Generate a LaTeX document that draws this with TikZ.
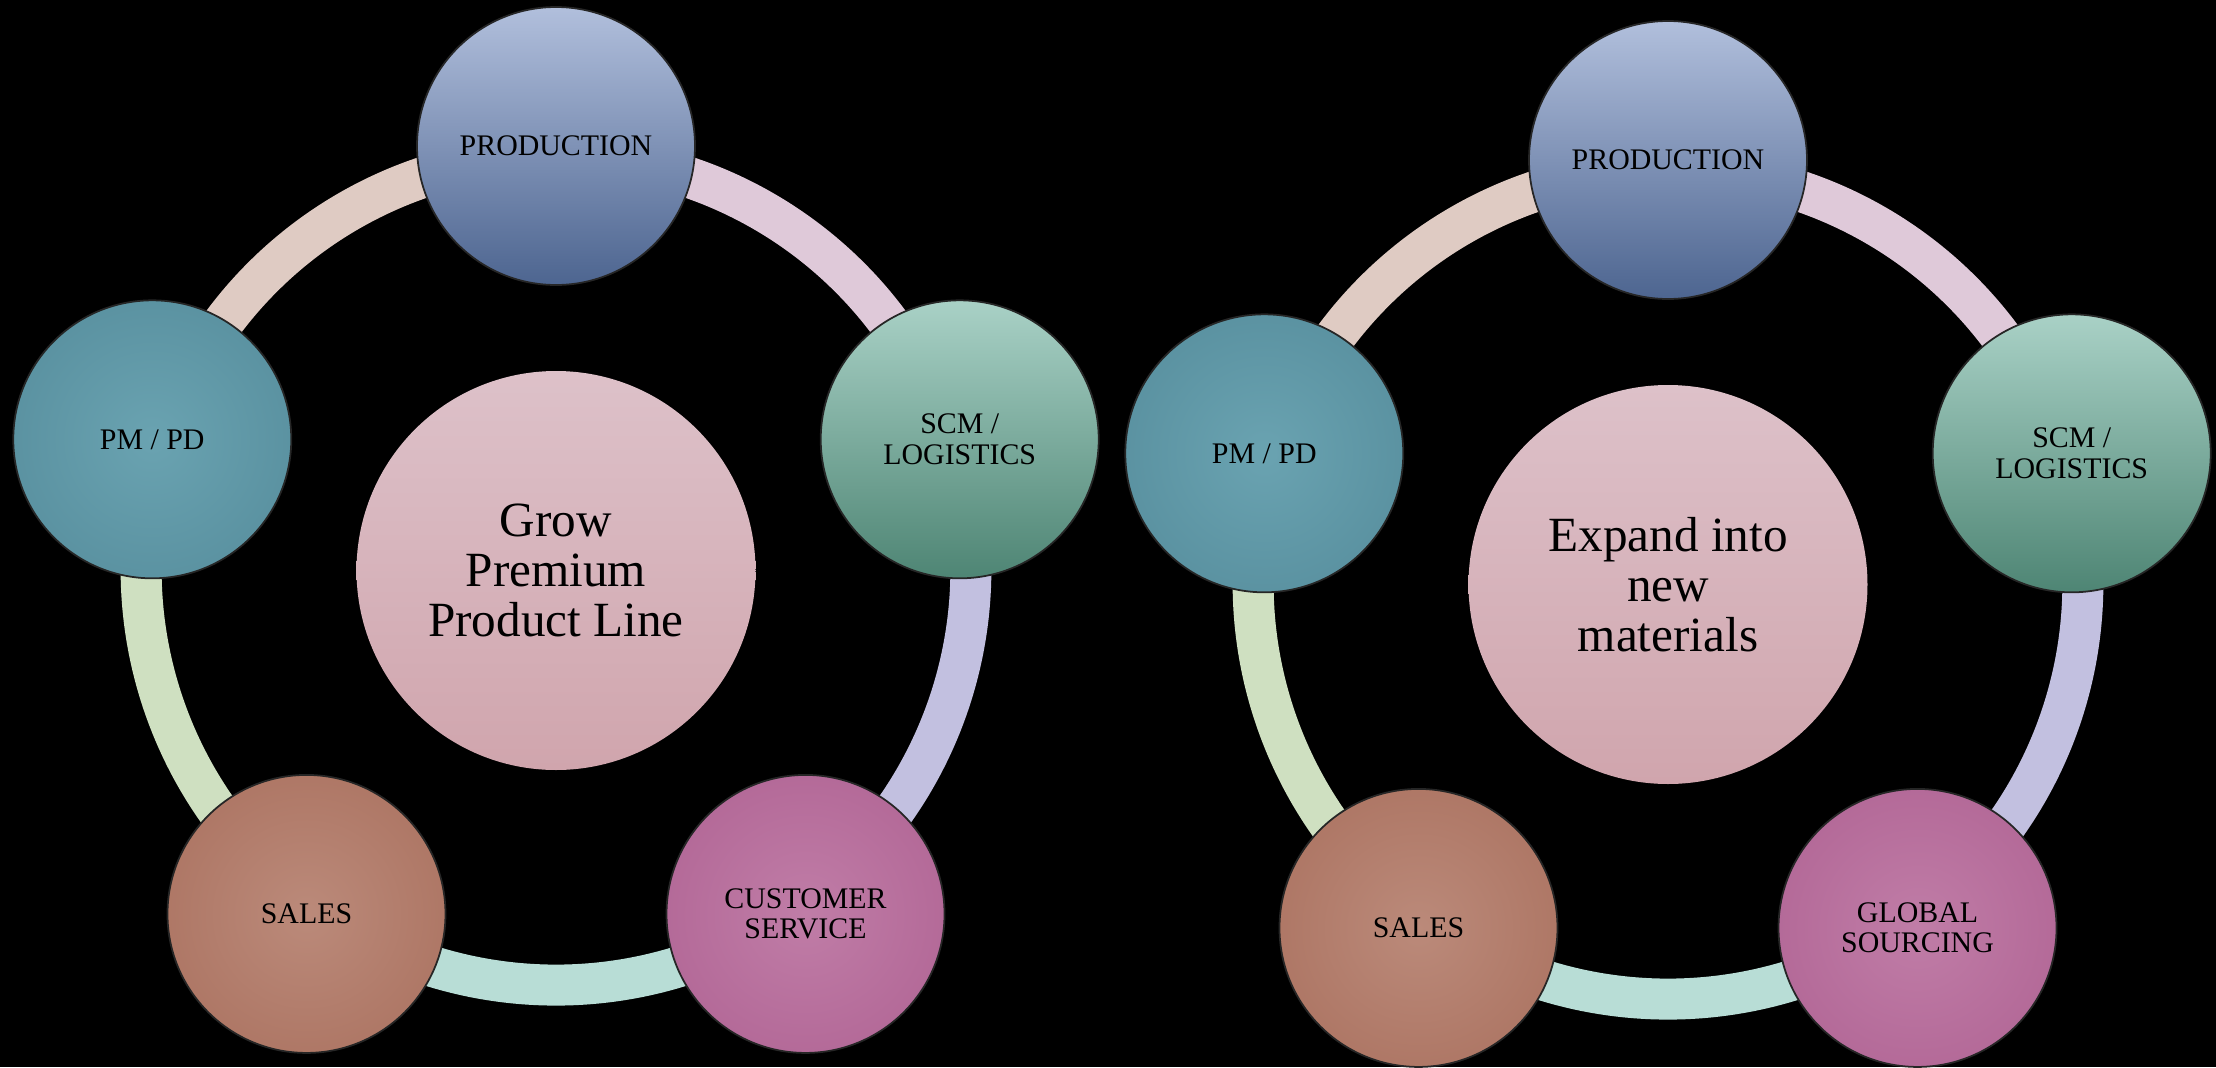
\documentclass[tikz,border=0pt]{standalone}
\usepackage{fontspec}
\setmainfont{Liberation Serif}
\usetikzlibrary{calc}

% fills of the circles
\definecolor{prodtop}{HTML}{B1BFDC}
\definecolor{prodbot}{HTML}{4D6590}
\definecolor{scmtop}{HTML}{A9D1C6}
\definecolor{scmbot}{HTML}{4E8574}
\definecolor{goaltop}{HTML}{DDC1C9}
\definecolor{goalbot}{HTML}{D0A5AD}
\definecolor{pmin}{HTML}{6AA3B1}
\definecolor{pmout}{HTML}{4C8292}
\definecolor{salesin}{HTML}{BB8A7A}
\definecolor{salesout}{HTML}{A26552}
\definecolor{servin}{HTML}{C07DA7}
\definecolor{servout}{HTML}{A8578A}
% ring pieces
\definecolor{ringbeige}{HTML}{DFCBC3}
\definecolor{ringpink}{HTML}{DFC9D9}
\definecolor{ringlilac}{HTML}{C2C0E0}
\definecolor{ringmint}{HTML}{B8DDD6}
\definecolor{ringgreen}{HTML}{CFE0C1}

\pgfdeclareradialshading{pmglow}{\pgfpoint{0bp}{0bp}}{color(0bp)=(pmin); color(50bp)=(pmout)}
\pgfdeclareradialshading{salesglow}{\pgfpoint{0bp}{0bp}}{color(0bp)=(salesin); color(50bp)=(salesout)}
\pgfdeclareradialshading{servglow}{\pgfpoint{0bp}{0bp}}{color(0bp)=(servin); color(50bp)=(servout)}

\tikzset{
  unit/.style={circle, minimum size=2.78cm, inner sep=0pt, draw=black!85, line width=0.5pt,
    align=center, font=\fontsize{8.5}{8.6}\selectfont},
  goal/.style={circle, minimum size=3.99cm, inner sep=0pt, top color=goaltop, bottom color=goalbot,
    align=center, font=\fontsize{14}{14.2}\selectfont},
  production/.style={top color=prodtop, bottom color=prodbot},
  logistics/.style={top color=scmtop, bottom color=scmbot},
  pmpd/.style={shade, shading=pmglow},
  sales/.style={shade, shading=salesglow},
  service/.style={shade, shading=servglow},
  band/.style={line width=0.41cm, bend left=36, looseness=0.94},
}

\begin{document}
\begin{tikzpicture}
\fill[black] (0,0) rectangle (22.16,10.67);

% first cycle
\begin{scope}[shift={(5.56,4.965)}]
  \foreach \a [count=\i] in {90,18,-54,-126,162}
    \coordinate (a\i) at (\a:4.15);
  \draw[band, ringpink] (a1) to (a2);
  \draw[band, ringlilac] (a2) to (a3);
  \draw[band, ringmint] (a3) to (a4);
  \draw[band, ringgreen] (a4) to (a5);
  \draw[band, ringbeige] (a5) to (a1);
  \node[goal] (goalA) at (0,0) {Grow\\Premium\\Product Line};
  \node[unit, production] (prodA) at (90:4.245) {PRODUCTION};
  \node[unit, logistics] (scmA) at (18:4.245) {SCM /\\LOGISTICS};
  \node[unit, service] (servA) at (-54:4.245) {CUSTOMER\\SERVICE};
  \node[unit, sales] (salesA) at (-126:4.245) {SALES};
  \node[unit, pmpd] (pmA) at (162:4.245) {PM / PD};
\end{scope}

% second cycle
\begin{scope}[shift={(16.68,4.825)}]
  \foreach \a [count=\i] in {90,18,-54,-126,162}
    \coordinate (b\i) at (\a:4.15);
  \draw[band, ringpink] (b1) to (b2);
  \draw[band, ringlilac] (b2) to (b3);
  \draw[band, ringmint] (b3) to (b4);
  \draw[band, ringgreen] (b4) to (b5);
  \draw[band, ringbeige] (b5) to (b1);
  \node[goal] (goalB) at (0,0) {Expand into\\new\\materials};
  \node[unit, production] (prodB) at (90:4.245) {PRODUCTION};
  \node[unit, logistics] (scmB) at (18:4.245) {SCM /\\LOGISTICS};
  \node[unit, service] (srcB) at (-54:4.245) {GLOBAL\\SOURCING};
  \node[unit, sales] (salesB) at (-126:4.245) {SALES};
  \node[unit, pmpd] (pmB) at (162:4.245) {PM / PD};
\end{scope}
\end{tikzpicture}
\end{document}
